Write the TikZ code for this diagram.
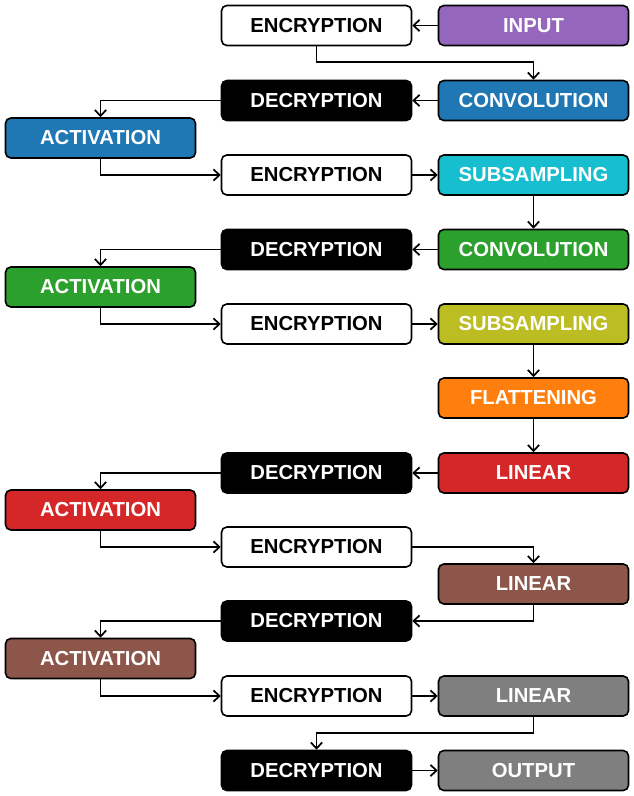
\documentclass[tikz,border=0pt]{standalone}
\usepackage{fontspec}
\setmainfont{Liberation Sans}
\usetikzlibrary{arrows.meta}
\definecolor{cpurple}{HTML}{9467BD}
\definecolor{cblue}{HTML}{1F77B4}
\definecolor{ccyan}{HTML}{17BECF}
\definecolor{cgreen}{HTML}{2CA02C}
\definecolor{colive}{HTML}{BCBD22}
\definecolor{corange}{HTML}{FF7F0E}
\definecolor{cred}{HTML}{D62728}
\definecolor{cbrown}{HTML}{8C564B}
\definecolor{cgrey}{HTML}{7F7F7F}
\begin{document}
\begin{tikzpicture}[x=0.75pt,y=-0.75pt,
  box/.style={draw=black, line width=1.2pt, rounded corners=4pt, minimum width=142.5pt, minimum height=30pt, inner sep=0pt, font=\bfseries\fontsize{15.2}{18}\selectfont, text=white},
  enc/.style={box, fill=white, text=black},
  dec/.style={box, fill=black},
  lnk/.style={line width=1.3pt, -{Straight Barb[length=4.5pt,width=8.5pt,line width=1.3pt]}}]
\useasboundingbox (0,0) rectangle (634,796);
% nodes
\node[enc] (e1) at (316.5,25.5) {ENCRYPTION};
\node[box, fill=cpurple] (in) at (533.5,25.5) {INPUT};
\node[dec] (d1) at (316.5,100.5) {DECRYPTION};
\node[box, fill=cblue] (c1) at (533.5,100.5) {CONVOLUTION};
\node[box, fill=cblue] (a1) at (100.5,138) {ACTIVATION};
\node[enc] (e2) at (316.5,175) {ENCRYPTION};
\node[box, fill=ccyan] (s1) at (533.5,175) {SUBSAMPLING};
\node[dec] (d2) at (316.5,249.5) {DECRYPTION};
\node[box, fill=cgreen] (c2) at (533.5,249.5) {CONVOLUTION};
\node[box, fill=cgreen] (a2) at (100.5,287) {ACTIVATION};
\node[enc] (e3) at (316.5,324) {ENCRYPTION};
\node[box, fill=colive] (s2) at (533.5,324) {SUBSAMPLING};
\node[box, fill=corange] (fl) at (533.5,398) {FLATTENING};
\node[dec] (d3) at (316.5,473) {DECRYPTION};
\node[box, fill=cred] (l1) at (533.5,473) {LINEAR};
\node[box, fill=cred] (a3) at (100.5,510) {ACTIVATION};
\node[enc] (e4) at (316.5,547) {ENCRYPTION};
\node[box, fill=cbrown] (l2) at (533.5,584) {LINEAR};
\node[dec] (d4) at (316.5,621) {DECRYPTION};
\node[box, fill=cbrown] (a4) at (100.5,658.5) {ACTIVATION};
\node[enc] (e5) at (316.5,696) {ENCRYPTION};
\node[box, fill=cgrey] (l3) at (533.5,696) {LINEAR};
\node[dec] (d5) at (316.5,770.5) {DECRYPTION};
\node[box, fill=cgrey] (out) at (533.5,770.5) {OUTPUT};
% connectors
\draw[lnk] (in) -- (e1);
\draw[lnk] (e1.south) -- ++(0,16) -| (c1.north);
\draw[lnk] (c1) -- (d1);
\draw[lnk] (d1.west) -| (a1.north);
\draw[lnk] (a1.south) |- (e2.west);
\draw[lnk] (e2) -- (s1);
\draw[lnk] (s1) -- (c2);
\draw[lnk] (c2) -- (d2);
\draw[lnk] (d2.west) -| (a2.north);
\draw[lnk] (a2.south) |- (e3.west);
\draw[lnk] (e3) -- (s2);
\draw[lnk] (s2) -- (fl);
\draw[lnk] (fl) -- (l1);
\draw[lnk] (l1) -- (d3);
\draw[lnk] (d3.west) -| (a3.north);
\draw[lnk] (a3.south) |- (e4.west);
\draw[lnk] (e4.east) -| (l2.north);
\draw[lnk] (l2.south) |- (d4.east);
\draw[lnk] (d4.west) -| (a4.north);
\draw[lnk] (a4.south) |- (e5.west);
\draw[lnk] (e5) -- (l3);
\draw[lnk] (l3.south) -- ++(0,16) -| (d5.north);
\draw[lnk] (d5) -- (out);
\end{tikzpicture}
\end{document}
